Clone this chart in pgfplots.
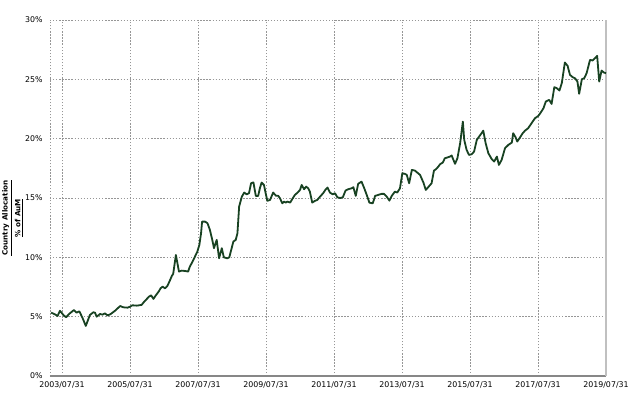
\documentclass[border=0pt]{standalone}
\usepackage{pgfplots}
\pgfplotsset{compat=1.18}
\usepackage{fontspec}
\setmainfont{DejaVu Sans}
\definecolor{linegreen}{RGB}{24,66,34}
\definecolor{gridgray}{RGB}{150,150,150}
\pgfplotstableread{
x y
2003.26 5.34
2003.37 5.20
2003.45 5.06
2003.52 5.50
2003.62 5.14
2003.70 4.95
2003.79 5.23
2003.93 5.56
2004.01 5.34
2004.09 5.45
2004.18 4.92
2004.28 4.22
2004.40 5.14
2004.50 5.37
2004.55 5.34
2004.60 5.00
2004.70 5.23
2004.77 5.17
2004.84 5.28
2004.92 5.11
2005.00 5.20
2005.14 5.50
2005.29 5.90
2005.38 5.79
2005.51 5.76
2005.58 5.84
2005.65 5.96
2005.78 5.93
2005.92 5.99
2006.00 6.27
2006.14 6.69
2006.20 6.80
2006.27 6.50
2006.34 6.80
2006.42 7.10
2006.48 7.39
2006.54 7.53
2006.61 7.39
2006.68 7.59
2006.76 8.09
2006.81 8.43
2006.85 8.60
2006.93 10.20
2007.02 8.80
2007.10 8.88
2007.20 8.85
2007.29 8.80
2007.34 9.22
2007.42 9.64
2007.49 10.06
2007.56 10.48
2007.62 11.05
2007.67 12.03
2007.70 13.01
2007.79 13.01
2007.86 12.87
2007.93 12.31
2008.00 11.47
2008.05 10.77
2008.13 11.47
2008.20 9.92
2008.28 10.77
2008.34 10.00
2008.44 9.92
2008.50 10.00
2008.57 10.77
2008.62 11.33
2008.69 11.47
2008.74 12.03
2008.79 14.28
2008.87 15.12
2008.94 15.46
2009.01 15.31
2009.08 15.40
2009.14 16.24
2009.21 16.32
2009.28 15.18
2009.35 15.18
2009.40 15.82
2009.45 16.30
2009.52 16.10
2009.57 15.40
2009.62 14.76
2009.70 14.84
2009.79 15.46
2009.87 15.20
2009.94 15.18
2009.99 14.98
2010.06 14.55
2010.11 14.70
2010.16 14.61
2010.21 14.70
2010.29 14.61
2010.35 14.90
2010.43 15.26
2010.51 15.46
2010.58 15.68
2010.63 16.10
2010.70 15.74
2010.76 15.96
2010.82 15.82
2010.87 15.54
2010.94 14.61
2011.02 14.76
2011.09 14.84
2011.17 15.12
2011.26 15.40
2011.34 15.74
2011.39 15.88
2011.46 15.46
2011.54 15.31
2011.61 15.40
2011.68 15.06
2011.76 15.00
2011.84 15.06
2011.92 15.63
2012.00 15.74
2012.10 15.82
2012.15 15.91
2012.22 15.18
2012.29 16.19
2012.39 16.38
2012.47 15.82
2012.56 15.12
2012.62 14.61
2012.72 14.55
2012.79 15.18
2012.88 15.26
2012.98 15.35
2013.05 15.35
2013.13 15.12
2013.21 14.78
2013.28 15.18
2013.37 15.54
2013.44 15.46
2013.52 15.82
2013.59 17.09
2013.67 17.03
2013.72 16.95
2013.79 16.24
2013.87 17.37
2013.96 17.31
2014.03 17.14
2014.11 16.95
2014.21 16.30
2014.28 15.68
2014.35 15.91
2014.45 16.24
2014.52 17.31
2014.58 17.43
2014.65 17.65
2014.70 17.85
2014.78 17.99
2014.84 18.35
2014.91 18.41
2014.99 18.49
2015.04 18.58
2015.14 17.88
2015.21 18.35
2015.29 19.62
2015.37 21.44
2015.41 19.90
2015.48 19.06
2015.55 18.63
2015.63 18.69
2015.70 18.91
2015.78 19.90
2015.85 20.18
2015.92 20.46
2015.97 20.68
2016.04 19.62
2016.12 18.77
2016.22 18.27
2016.29 18.07
2016.37 18.49
2016.43 17.79
2016.51 18.21
2016.61 19.20
2016.71 19.48
2016.81 19.67
2016.85 20.46
2016.92 20.12
2016.97 19.76
2017.05 20.10
2017.13 20.46
2017.20 20.68
2017.29 20.88
2017.39 21.30
2017.49 21.72
2017.59 21.92
2017.66 22.20
2017.74 22.56
2017.81 23.13
2017.91 23.27
2017.98 22.93
2018.06 24.34
2018.13 24.26
2018.21 24.06
2018.28 24.68
2018.37 26.42
2018.45 26.14
2018.52 25.38
2018.60 25.18
2018.67 25.09
2018.74 24.81
2018.79 23.78
2018.87 25.01
2018.94 25.09
2019.01 25.52
2019.11 26.64
2019.19 26.59
2019.26 26.79
2019.32 26.98
2019.38 24.81
2019.45 25.74
2019.52 25.57
2019.58 25.52
}\datatable
\begin{document}
\begin{tikzpicture}
\path[use as bounding box] (-37.5pt,-13.5pt) rectangle (443.25pt,282pt);
\begin{axis}[
  at={(0,0)}, anchor=south west,
  scale only axis, width=417pt, height=267pt,
  xmin=2003.227, xmax=2019.58, ymin=0, ymax=30,
  axis line style={draw=none},
  xtick={2003.58,2005.58,2007.58,2009.58,2011.58,2013.58,2015.58,2017.58,2019.58},
  xticklabels={2003/07/31,2005/07/31,2007/07/31,2009/07/31,2011/07/31,2013/07/31,2015/07/31,2017/07/31,2019/07/31},
  ytick={0,5,10,15,20,25,30},
  yticklabels={0\%,5\%,10\%,15\%,20\%,25\%,30\%},
  major tick length=0pt,
  tick label style={font=\fontsize{5.9}{7}\selectfont, text=black},
  xticklabel style={yshift=-1pt},
  yticklabel style={xshift=-2pt},
  grid=major,
  grid style={gridgray, line width=0.55pt, dash pattern=on 1pt off 1.3pt},
  clip=false,
]
\draw[gridgray, line width=0.55pt, dash pattern=on 1pt off 1.3pt] (rel axis cs:0,0) -- (rel axis cs:0,1);
\draw[gridgray!90!black, line width=0.8pt] (rel axis cs:0,0) -- (rel axis cs:1,0);
\draw[gridgray!60, line width=0.8pt] (rel axis cs:1,0) -- (rel axis cs:1,1);
\addplot[linegreen, line width=1.35pt, line join=round, no marks] table[x=x,y=y] {\datatable};
\end{axis}
\node[rotate=90, font=\fontsize{5.4}{6}\selectfont\bfseries, inner sep=0pt] at (-32.25pt,118.5pt) {\underline{Country Allocation}};
\node[rotate=90, font=\fontsize{5.4}{6}\selectfont\bfseries, inner sep=0pt] at (-23.25pt,118.5pt) {\underline{\% of AuM}};
\end{tikzpicture}
\end{document}
